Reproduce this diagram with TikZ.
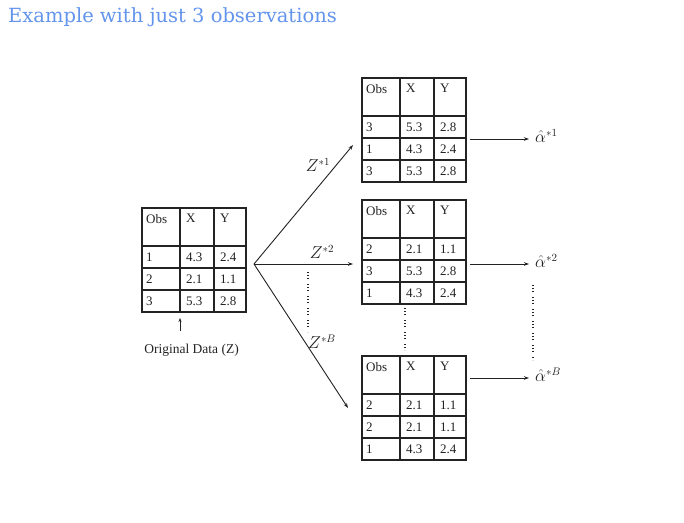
\documentclass[tikz,border=0pt]{standalone}
\usepackage{fontspec}
\setmainfont{Liberation Serif}
\newfontfamily\titlefont{DejaVu Serif}
\usetikzlibrary{arrows.meta,calc}
\definecolor{titleblue}{RGB}{100,149,237}
\definecolor{ink}{RGB}{35,35,35}
\tikzset{
  tbl/.style={draw=ink, line width=1.2pt, minimum width=104pt, minimum height=104pt, inner sep=0pt, outer sep=0pt},
  tline/.style={draw=ink, line width=1.2pt},
  cell/.style={anchor=north west, inner sep=0pt, font=\fontsize{13}{15}\selectfont, text=ink},
  cellr/.style={anchor=west, inner sep=0pt, font=\fontsize{13}{15}\selectfont, text=ink},
  conn/.style={draw=ink, line width=0.9pt, -{Stealth[length=5pt,width=3.5pt]}},
  dots/.style={draw=ink, line width=1.1pt, dash pattern=on 1pt off 2pt on 1pt off 2pt on 1pt off 5pt},
  zlab/.style={font=\fontsize{16}{18}\selectfont, text=ink, inner sep=1pt},
}
\newcommand\obstable[3]{%
  \node[tbl, anchor=north west] (#1) at (#2) {};
  \draw[tline] ([xshift=38pt]#1.north west) -- ([xshift=38pt]#1.south west);
  \draw[tline] ([xshift=72pt]#1.north west) -- ([xshift=72pt]#1.south west);
  \foreach \d in {38,60,82} \draw[tline] ([yshift=-\d pt]#1.north west) -- ([yshift=-\d pt]#1.north east);
  \node[cell] (#1-h1) at ([xshift=4pt,yshift=-6pt]#1.north west) {Obs};
  \node[cell] (#1-h2) at ([xshift=44pt,yshift=-6pt]#1.north west) {X};
  \node[cell] (#1-h3) at ([xshift=78pt,yshift=-6pt]#1.north west) {Y};
  \foreach \a/\b/\c [count=\i, evaluate=\i as \yy using -27-22*\i] in {#3} {
    \node[cellr] (#1-\i-1) at ([xshift=4pt,yshift=\yy pt]#1.north west) {\a};
    \node[cellr] (#1-\i-2) at ([xshift=44pt,yshift=\yy pt]#1.north west) {\b};
    \node[cellr] (#1-\i-3) at ([xshift=78pt,yshift=\yy pt]#1.north west) {\c};
  }%
}
\begin{document}
\begin{tikzpicture}[x=1pt,y=-1pt]
  \fill[white] (0,0) rectangle (684,522);
  \useasboundingbox (0,0) rectangle (684,522);

  \node[anchor=base west, font=\titlefont\fontsize{19.5}{23}\selectfont, text=titleblue, inner sep=0pt] (title) at (8,22) {Example with just 3 observations};

  \obstable{orig}{142,208}{1/4.3/2.4,2/2.1/1.1,3/5.3/2.8}
  \obstable{ta}{362,78}{3/5.3/2.8,1/4.3/2.4,3/5.3/2.8}
  \obstable{tb}{362,200}{2/2.1/1.1,3/5.3/2.8,1/4.3/2.4}
  \obstable{tc}{362,356}{2/2.1/1.1,2/2.1/1.1,1/4.3/2.4}

  % original data label and arrow
  \node[font=\fontsize{13.5}{16}\selectfont, text=ink, inner sep=0pt] (origlab) at (191.5,350) {Original Data (Z)};
  \coordinate (upA) at (180,331);
  \coordinate (upB) at (180,318);
  \draw[draw=ink, line width=0.9pt, -{Stealth[length=4pt,width=3pt]}] (upA) -- (upB);

  % fan of resamples
  \coordinate (fan) at (254,264);
  \coordinate (endA) at (353,145);
  \coordinate (endB) at (353,264);
  \coordinate (endC) at (348,408);
  \draw[conn] (fan) -- (endA);
  \draw[conn] (fan) -- (endB);
  \draw[conn] (fan) -- (endC);
  \node[zlab] (zA) at (318,165) {$Z^{*1}$};
  \node[zlab] (zB) at (322,252) {$Z^{*2}$};
  \node[zlab] (zC) at (322,342) {$Z^{*B}$};
  \coordinate (dA1) at (308,272);
  \coordinate (dA2) at (308,332);
  \draw[dots] (dA1) -- (dA2);

  % dots between tables
  \coordinate (dB1) at (405,308);
  \coordinate (dB2) at (405,350);
  \draw[dots] (dB1) -- (dB2);

  % estimates
  \coordinate (sA) at (470,139);
  \coordinate (fA) at (529,139);
  \coordinate (sB) at (470,264);
  \coordinate (fB) at (529,264);
  \coordinate (sC) at (470,378);
  \coordinate (fC) at (529,378);
  \draw[conn] (sA) -- (fA);
  \draw[conn] (sB) -- (fB);
  \draw[conn] (sC) -- (fC);
  \node[zlab, anchor=west] (aA) at (534,136) {$\hat{\alpha}^{*1}$};
  \node[zlab, anchor=west] (aB) at (534,261) {$\hat{\alpha}^{*2}$};
  \node[zlab, anchor=west] (aC) at (534,375) {$\hat{\alpha}^{*B}$};
  \coordinate (dC1) at (533,285);
  \coordinate (dC2) at (533,360);
  \draw[dots] (dC1) -- (dC2);
\end{tikzpicture}
\end{document}
